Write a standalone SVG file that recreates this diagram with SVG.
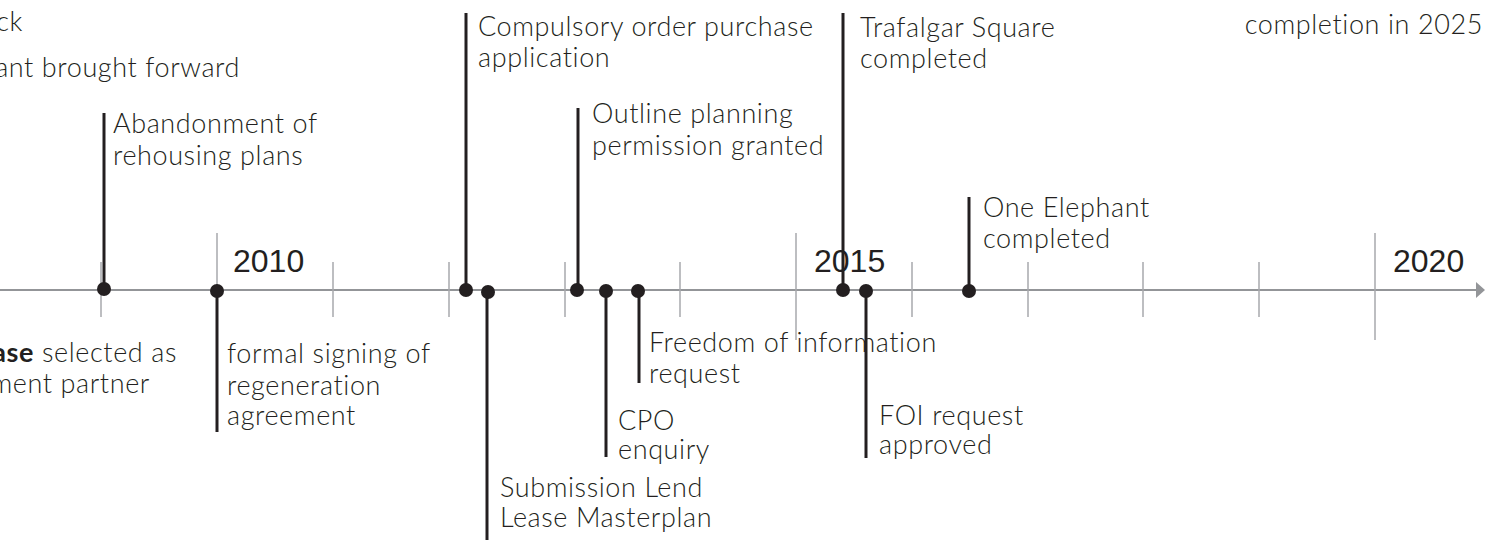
<svg xmlns="http://www.w3.org/2000/svg" width="1501" height="544" viewBox="0 0 1501 544">
<style>
.lbl{font-family:Lato,"Liberation Sans",sans-serif;font-size:27px;font-weight:300;letter-spacing:0.6px;fill:#231f20}
.yr{font-family:"Liberation Sans",Arial,sans-serif;font-size:32px;fill:#231f20}
.tick{stroke:#a7a9ac;stroke-width:1.5}
.stem{stroke:#231f20;stroke-width:3}
.dot{fill:#231f20}
</style>
<rect width="1501" height="544" fill="#ffffff"/>
<g id="axis">
<line x1="0" y1="290" x2="1478" y2="290" stroke="#939598" stroke-width="2"/>
<polygon points="1476,282 1485,290 1476,298" fill="#939598"/>
<g class="tick">
<line x1="101" y1="262" x2="101" y2="317"/>
<line x1="217" y1="233" x2="217" y2="340"/>
<line x1="333" y1="262" x2="333" y2="317"/>
<line x1="449" y1="262" x2="449" y2="317"/>
<line x1="565" y1="262" x2="565" y2="317"/>
<line x1="680" y1="262" x2="680" y2="317"/>
<line x1="796" y1="233" x2="796" y2="340"/>
<line x1="912" y1="262" x2="912" y2="317"/>
<line x1="1028" y1="262" x2="1028" y2="317"/>
<line x1="1143" y1="262" x2="1143" y2="317"/>
<line x1="1259" y1="262" x2="1259" y2="317"/>
<line x1="1375" y1="233" x2="1375" y2="340"/>
</g>
<text class="yr" x="233" y="272">2010</text>
<text class="yr" x="814" y="272">2015</text>
<text class="yr" x="1393" y="272">2020</text>
</g>
<g id="connectors" class="stem">
<line x1="104" y1="113" x2="104" y2="290"/>
<line x1="217" y1="291" x2="217" y2="432"/>
<line x1="466" y1="13" x2="466" y2="290"/>
<line x1="487" y1="291" x2="487" y2="540"/>
<line x1="578" y1="108" x2="578" y2="290"/>
<line x1="606" y1="291" x2="606" y2="457"/>
<line x1="639" y1="291" x2="639" y2="383"/>
<line x1="843" y1="13" x2="843" y2="290"/>
<line x1="866" y1="291" x2="866" y2="458"/>
<line x1="969" y1="197" x2="969" y2="290"/>
</g>
<g id="ev-offscreen-1"><text class="lbl" x="23" y="31" text-anchor="end">ck</text></g>
<g id="ev-offscreen-2"><text class="lbl" x="240" y="77" text-anchor="end">ant brought forward</text></g>
<g id="ev-offscreen-3">
<text class="lbl" x="177" y="362" text-anchor="end"><tspan font-weight="bold">ase</tspan> selected as</text>
<text class="lbl" x="150" y="393" text-anchor="end">ment partner</text>
</g>
<g id="ev-abandonment">
<circle class="dot" cx="104" cy="289" r="7"/>
<text class="lbl" x="113" y="133">Abandonment of</text>
<text class="lbl" x="113" y="165">rehousing plans</text>
</g>
<g id="ev-signing">
<circle class="dot" cx="217" cy="291" r="7"/>
<text class="lbl" x="227" y="363">formal signing of</text>
<text class="lbl" x="227" y="395">regeneration</text>
<text class="lbl" x="227" y="425">agreement</text>
</g>
<g id="ev-cpo-application">
<circle class="dot" cx="466" cy="290" r="7"/>
<text class="lbl" x="478" y="36">Compulsory order purchase</text>
<text class="lbl" x="478" y="67">application</text>
</g>
<g id="ev-submission">
<circle class="dot" cx="488" cy="292" r="7"/>
<text class="lbl" x="500" y="497">Submission Lend</text>
<text class="lbl" x="500" y="527">Lease Masterplan</text>
</g>
<g id="ev-outline">
<circle class="dot" cx="577" cy="290" r="7"/>
<text class="lbl" x="592" y="123">Outline planning</text>
<text class="lbl" x="592" y="155">permission granted</text>
</g>
<g id="ev-cpo-enquiry">
<circle class="dot" cx="606" cy="291" r="7"/>
<text class="lbl" x="618" y="430">CPO</text>
<text class="lbl" x="618" y="459">enquiry</text>
</g>
<g id="ev-foi">
<circle class="dot" cx="638" cy="291" r="7"/>
<text class="lbl" x="649" y="352">Freedom of information</text>
<text class="lbl" x="649" y="383">request</text>
</g>
<g id="ev-trafalgar">
<circle class="dot" cx="843" cy="290" r="7"/>
<text class="lbl" x="860" y="37">Trafalgar Square</text>
<text class="lbl" x="860" y="68">completed</text>
</g>
<g id="ev-foi-approved">
<circle class="dot" cx="866" cy="291" r="7"/>
<text class="lbl" x="879" y="425">FOI request</text>
<text class="lbl" x="879" y="454">approved</text>
</g>
<g id="ev-one-elephant">
<circle class="dot" cx="969" cy="291" r="7"/>
<text class="lbl" x="983" y="217">One Elephant</text>
<text class="lbl" x="983" y="248">completed</text>
</g>
<g id="ev-completion"><text class="lbl" x="1483" y="34" text-anchor="end">completion in 2025</text></g>
</svg>
